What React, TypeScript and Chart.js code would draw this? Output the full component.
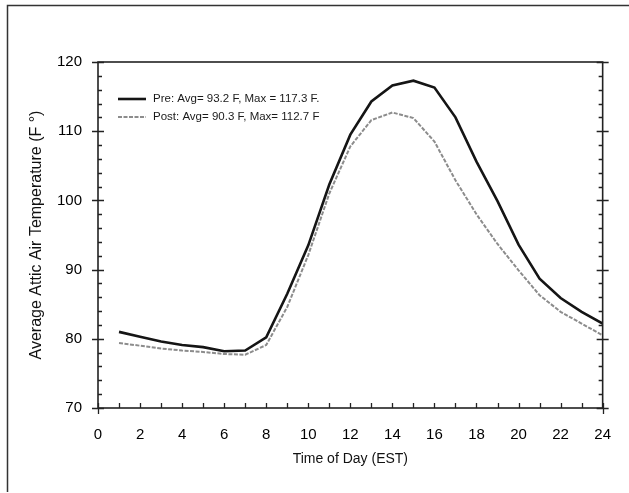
import React, { useEffect, useRef } from "react";
import { Chart, registerables } from "chart.js";

Chart.register(...registerables);

const hours = [1, 2, 3, 4, 5, 6, 7, 8, 9, 10, 11, 12, 13, 14, 15, 16, 17, 18, 19, 20, 21, 22, 23, 24];
const preTemps = [81.0, 80.3, 79.6, 79.1, 78.8, 78.2, 78.3, 80.2, 86.5, 93.5, 102.3, 109.5, 114.3, 116.6, 117.3, 116.3, 112.0, 105.6, 99.9, 93.6, 88.7, 85.9, 83.9, 82.2];
const postTemps = [79.4, 79.0, 78.6, 78.3, 78.1, 77.8, 77.7, 79.1, 84.6, 92.1, 101.0, 107.8, 111.6, 112.7, 111.9, 108.5, 102.9, 98.0, 93.7, 89.9, 86.3, 83.9, 82.2, 80.5];
const seriesLabels = ["Pre: Avg= 93.2 F, Max = 117.3 F.", "Post: Avg= 90.3 F, Max= 112.7 F"];
const xTitle = "Time of Day (EST)";
const yTitle = "Average Attic Air Temperature (F \u00B0)";
const xMin = 0, xMax = 24, xStep = 2, xMinor = 1;
const yMin = 70, yMax = 120, yStep = 10, yMinor = 2;

const FONT = "'Liberation Sans', Arial, Helvetica, sans-serif";

const decoPlugin = {
  id: "deco",
  beforeDraw(chart: any) {
    const ctx = chart.ctx;
    ctx.save();
    ctx.fillStyle = "#fff";
    ctx.fillRect(0, 0, chart.width, chart.height);
    ctx.strokeStyle = "#333";
    ctx.lineWidth = 1.5;
    ctx.beginPath();
    ctx.moveTo(7.5, 492);
    ctx.lineTo(7.5, 5.5);
    ctx.lineTo(chart.width, 5.5);
    ctx.stroke();
    ctx.restore();
  },
  afterDatasetsDraw(chart: any) {
    const ctx = chart.ctx;
    const { left, right, top, bottom } = chart.chartArea;
    const xs = chart.scales.x;
    const ys = chart.scales.y;
    ctx.save();
    ctx.strokeStyle = "#222";
    ctx.lineWidth = 1.6;
    ctx.strokeRect(left, top, right - left, bottom - top);
    ctx.lineWidth = 1.3;
    ctx.beginPath();
    for (let v = yMin; v <= yMax + 1e-9; v += yMinor) {
      const y = Math.round(ys.getPixelForValue(v)) + 0.5;
      const major = Math.abs(v / yStep - Math.round(v / yStep)) < 1e-6;
      ctx.moveTo(left - (major ? 6 : 0), y);
      ctx.lineTo(left + (major ? 6 : 4), y);
      ctx.moveTo(right + (major ? 6 : 0), y);
      ctx.lineTo(right - (major ? 6 : 4), y);
    }
    for (let v = xMin; v <= xMax + 1e-9; v += xMinor) {
      const x = Math.round(xs.getPixelForValue(v)) + 0.5;
      const edge = v === xMin || v === xMax;
      ctx.moveTo(x, bottom + (edge ? 6 : 0));
      ctx.lineTo(x, bottom - 5);
    }
    ctx.stroke();

    // legend
    const ds = chart.data.datasets;
    const lx = left + 20;
    const ly0 = top + 37;
    const rowH = 18;
    ctx.font = "11.5px " + FONT;
    ctx.textBaseline = "middle";
    ctx.textAlign = "left";
    ds.forEach((d: any, i: number) => {
      const y = ly0 + i * rowH;
      ctx.save();
      ctx.strokeStyle = d.borderColor;
      ctx.lineWidth = d.borderWidth;
      ctx.setLineDash(d.borderDash || []);
      ctx.beginPath();
      ctx.moveTo(lx, y);
      ctx.lineTo(lx + 28, y);
      ctx.stroke();
      ctx.restore();
      ctx.fillStyle = "#1a1a1a";
      ctx.fillText(d.label, lx + 35, y);
    });
    ctx.restore();
  },
};

export default function App() {
  const ref = useRef<HTMLCanvasElement | null>(null);
  useEffect(() => {
    if (!ref.current) return;
    const chart = new Chart(ref.current, {
      type: "line",
      data: {
        labels: hours,
        datasets: [
          {
            label: seriesLabels[0],
            data: hours.map((h, i) => ({ x: h, y: preTemps[i] })),
            borderColor: "#151515",
            borderWidth: 2.6,
            pointRadius: 0,
            tension: 0,
            fill: false,
          },
          {
            label: seriesLabels[1],
            data: hours.map((h, i) => ({ x: h, y: postTemps[i] })),
            borderColor: "#8c8c8c",
            borderWidth: 2,
            borderDash: [4, 1.5],
            pointRadius: 0,
            tension: 0,
            fill: false,
          },
        ],
      },
      options: {
        responsive: false,
        animation: false,
        devicePixelRatio: 1,
        layout: { padding: { left: 10, right: 22, top: 62, bottom: 25 } },
        plugins: { legend: { display: false }, tooltip: { enabled: false } },
        scales: {
          x: {
            type: "linear",
            min: xMin,
            max: xMax,
            grid: { display: false, drawTicks: false },
            border: { display: false },
            ticks: { stepSize: xStep, padding: 18, color: "#000", font: { size: 15, family: FONT } },
            title: { display: true, text: xTitle, color: "#111", font: { size: 14, family: FONT }, padding: { top: 6, bottom: 0 } },
            afterFit: (scale: any) => { scale.height = 60; },
          },
          y: {
            type: "linear",
            min: yMin,
            max: yMax,
            grid: { display: false, drawTicks: false },
            border: { display: false },
            ticks: { stepSize: yStep, padding: 16, color: "#000", font: { size: 15, family: FONT } },
            title: { display: true, text: yTitle, color: "#111", font: { size: 16, family: FONT }, padding: { top: 17, bottom: 12 } },
            afterFit: (scale: any) => { scale.width = 88; },
          },
        },
      },
      plugins: [decoPlugin],
    });
    return () => chart.destroy();
  }, []);
  return (
    <canvas
      ref={ref}
      width={629}
      height={493}
      style={{ position: "fixed", left: 0, top: 0, width: 629, height: 493 }}
    />
  );
}
